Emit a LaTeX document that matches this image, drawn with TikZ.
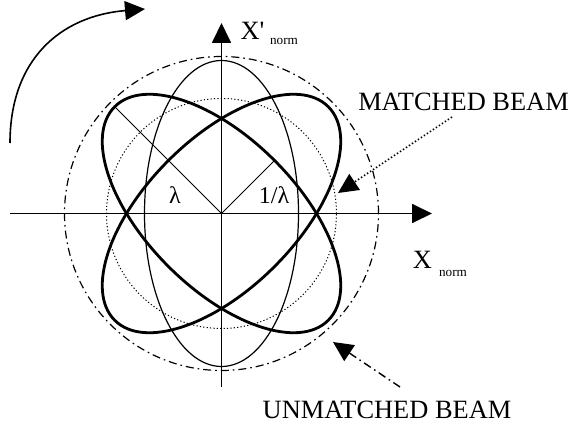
\documentclass[tikz,border=0pt]{standalone}
\usepackage{fontspec}
\setmainfont{Liberation Serif}
\usetikzlibrary{arrows.meta}
\tikzset{>={Triangle[length=10pt,width=9.5pt]}}
\tikzset{
  big/.style={anchor=base, inner sep=0pt, font=\fontsize{13.2}{15}\selectfont},
  small/.style={anchor=base, inner sep=0pt, font=\fontsize{6.6}{8}\selectfont},
  greek/.style={anchor=base, inner sep=0pt, font=\fontsize{12}{14}\selectfont},
  dashdot/.style={dash pattern=on 4pt off 2pt on 0.8pt off 2pt}
}

\begin{document}
\begin{tikzpicture}[x=0.5pt,y=0.5pt]
  \useasboundingbox (-221.5,-214.5) rectangle (350.5,213.5);

  % 坐标点定义
  \coordinate (O) at (0,0);
  \coordinate (XL) at (-211.5,0);
  \coordinate (XR) at (210.5,0);
  \coordinate (YB) at (0,-173.5);
  \coordinate (YT) at (0,190.5);
  \coordinate (L) at (135:151);
  \coordinate (K) at (45:75);
  \coordinate (R0) at (-211.5,70.5);
  \coordinate (R3) at (-76.5,204.5);
  \coordinate (M0) at (230.5,96.5);
  \coordinate (M1) at (116.5,20.5);
  \coordinate (U0) at (178.5,-173.5);
  \coordinate (U1) at (111.5,-128.5);

  % 圆和椭圆
  \draw[line width=0.6pt, dashdot] (O) circle (157);
  \draw[line width=0.5pt, dash pattern=on 0.6pt off 1.1pt] (O) circle (115);
  \draw[line width=0.6pt] (O) ellipse [x radius=77, y radius=153];
  \draw[line width=1.4pt, rotate=45] (O) ellipse [x radius=75, y radius=151];
  \draw[line width=1.4pt, rotate=-45] (O) ellipse [x radius=75, y radius=151];

  % 半轴
  \draw[line width=0.4pt] (O) -- (L);
  \draw[line width=0.4pt] (O) -- (K);

  % 坐标轴
  \draw[line width=0.9pt, ->] (XL) -- (XR);
  \draw[line width=0.9pt, ->] (YB) -- (YT);

  % 旋转箭头
  \draw[line width=0.8pt, ->] (R0) .. controls (-211.5,153.5) and (-161.5,197.5) .. (R3);

  % 指示箭头
  \draw[line width=0.8pt, dash pattern=on 0.7pt off 1.1pt, ->] (M0) -- (M1);
  \draw[line width=0.7pt, dashdot, ->] (U0) -- (U1);

  % 标签
  \node (xp) [big] at (31,173.5) {X\textquotesingle};
  \node (xpn) [small] at (62.5,168.5) {norm};
  \node (x) [big] at (201,-54.5) {X};
  \node (xn) [small] at (231.5,-62.5) {norm};
  \node (lam) [greek] at (-46.5,10.5) {λ};
  \node (ilam) [greek] at (52.5,10.5) {1/λ};
  \node (mb) [big] at (242,102.5) {MATCHED BEAM};
  \node (ub) [big] at (165.5,-204.5) {UNMATCHED BEAM};
\end{tikzpicture}
\end{document}
